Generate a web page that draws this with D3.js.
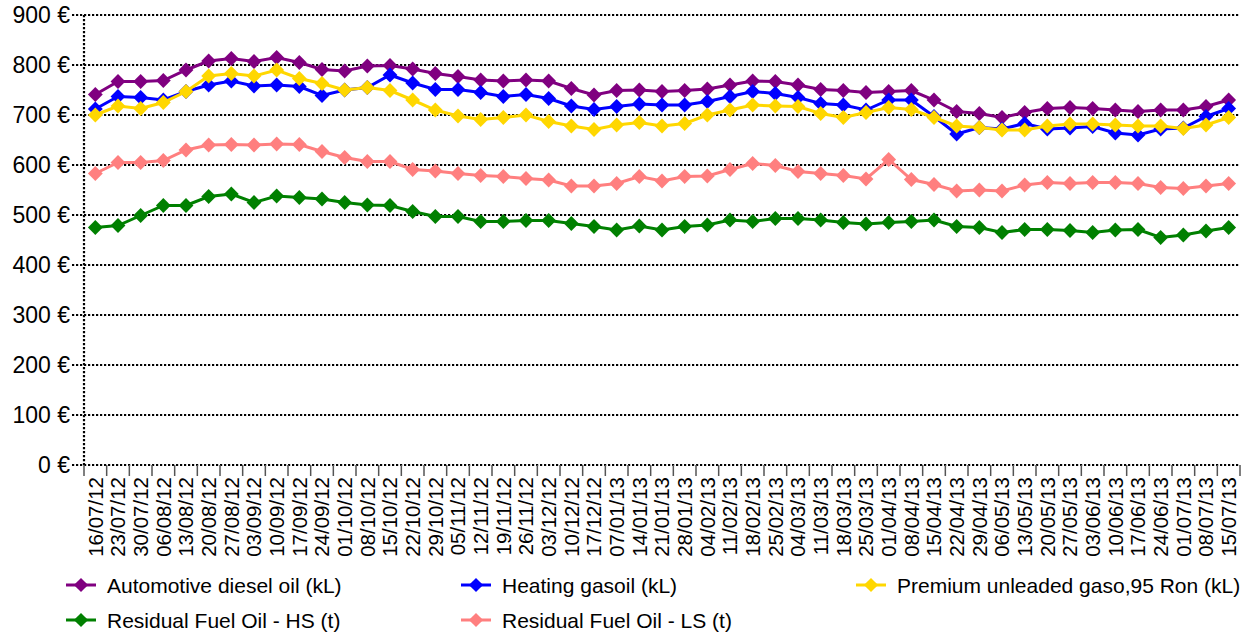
<!DOCTYPE html>
<html>
<head>
<meta charset="utf-8">
<script src="https://cdn.jsdelivr.net/npm/d3@7"></script>
<style>
  body { margin: 0; background: #fff; }
  svg { font-family: "Liberation Sans", Arial, sans-serif; }
</style>
</head>
<body>
<svg id="chart" width="1256" height="634"></svg>
<script>
const dates = ["16/07/12","23/07/12","30/07/12","06/08/12","13/08/12","20/08/12","27/08/12","03/09/12","10/09/12","17/09/12",
  "24/09/12","01/10/12","08/10/12","15/10/12","22/10/12","29/10/12","05/11/12","12/11/12","19/11/12","26/11/12",
  "03/12/12","10/12/12","17/12/12","07/01/13","14/01/13","21/01/13","28/01/13","04/02/13","11/02/13","18/02/13",
  "25/02/13","04/03/13","11/03/13","18/03/13","25/03/13","01/04/13","08/04/13","15/04/13","22/04/13","29/04/13",
  "06/05/13","13/05/13","20/05/13","27/05/13","03/06/13","10/06/13","17/06/13","24/06/13","01/07/13","08/07/13","15/07/13"];

const diesel = [741,767,767,769,790,808,813,807,815,805,791,788,798,799,792,783,777,770,768,770,
  768,753,740,749,750,747,749,752,760,768,767,760,751,749,745,747,749,730,707,703,
  695,705,713,715,713,710,707,710,710,717,730];
const heating = [712,737,735,730,747,760,768,758,760,757,739,750,755,780,764,751,751,745,737,741,
  733,718,711,717,722,720,720,727,737,747,743,735,723,720,710,730,730,697,662,675,
  672,683,672,674,677,664,660,672,674,697,713];
const premium = [700,718,713,725,747,778,783,778,790,773,763,750,755,749,730,710,698,691,695,700,
  687,678,671,680,685,678,683,700,710,720,718,717,703,695,705,715,711,695,678,675,
  670,670,678,682,682,680,678,678,673,680,695];
const fuelHS = [475,479,499,519,519,537,542,525,538,535,532,525,520,519,507,497,497,487,487,489,
  489,483,477,470,478,470,477,480,490,487,493,493,490,485,482,485,487,490,477,475,
  465,471,471,469,465,470,471,455,460,468,475];
const fuelLS = [583,605,605,609,630,640,641,640,642,641,627,615,607,607,591,588,583,579,577,573,
  570,558,558,563,577,568,577,578,591,603,599,587,583,579,572,611,571,561,548,550,
  548,560,565,563,565,565,563,555,553,558,563];

const yTicks = [0,100,200,300,400,500,600,700,800,900];

const series = [
  { name: "Automotive diesel oil (kL)", values: diesel, color: "#800080" },
  { name: "Heating gasoil (kL)", values: heating, color: "#0000ff" },
  { name: "Premium unleaded gaso,95 Ron (kL)", values: premium, color: "#ffd700" },
  { name: "Residual Fuel Oil - HS (t)", values: fuelHS, color: "#008000" },
  { name: "Residual Fuel Oil - LS (t)", values: fuelLS, color: "#ff7f7f" }
];

const svg = d3.select("#chart");
const plotLeft = 84, plotRight = 1240, plotTop = 15, plotBottom = 465;

const x = d3.scaleBand().domain(dates).range([plotLeft, plotRight]).padding(0);
const y = d3.scaleLinear().domain([0, 900]).range([plotBottom, plotTop]);

// gridlines + y labels
const grid = svg.append("g");
grid.selectAll("line").data(yTicks).join("line")
  .attr("x1", 72).attr("x2", plotRight)
  .attr("y1", d => y(d)).attr("y2", d => y(d))
  .attr("stroke", "#000").attr("stroke-width", 2.2).attr("stroke-dasharray", "2.2,1.8");
grid.selectAll("text").data(yTicks).join("text")
  .attr("x", 70).attr("y", d => y(d)).attr("dy", "0.36em")
  .attr("text-anchor", "end").attr("font-size", 23).attr("fill", "#000")
  .text(d => d + " €");

// y axis dotted line
svg.append("line")
  .attr("x1", plotLeft).attr("x2", plotLeft).attr("y1", plotTop).attr("y2", plotBottom)
  .attr("stroke", "#000").attr("stroke-width", 2.2).attr("stroke-dasharray", "2.2,1.8");

// x axis ticks at band edges
const edges = dates.map(d => x(d)).concat([plotRight]);
svg.append("g").selectAll("line").data(edges).join("line")
  .attr("x1", d => d).attr("x2", d => d).attr("y1", plotBottom).attr("y2", plotBottom + 11)
  .attr("stroke", "#555").attr("stroke-width", 1.5);

svg.append("g").selectAll("text").data(dates).join("text")
  .attr("transform", d => `translate(${x(d) + x.bandwidth() / 2},${plotBottom + 12}) rotate(-90)`)
  .attr("text-anchor", "end").attr("dy", "0.36em")
  .attr("font-size", 20.5).attr("fill", "#000")
  .text(d => d);

const line = d3.line().x((d, i) => x(dates[i]) + x.bandwidth() / 2).y(d => y(d));
const diamond = d3.symbol(d3.symbolSquare, 110);

series.forEach(s => {
  const g = svg.append("g");
  g.append("path").datum(s.values)
    .attr("d", line).attr("fill", "none")
    .attr("stroke", s.color).attr("stroke-width", 3);
  g.selectAll("path.m").data(s.values).join("path").attr("class", "m")
    .attr("d", diamond)
    .attr("transform", (d, i) => `translate(${x(dates[i]) + x.bandwidth() / 2},${y(d)}) rotate(45)`)
    .attr("fill", s.color);
});

// legend
const legendPos = [[66, 585], [461, 585], [856, 585], [66, 620], [461, 620]];
series.forEach((s, i) => {
  const [lx, ly] = legendPos[i];
  const g = svg.append("g").attr("transform", `translate(${lx},${ly})`);
  g.append("line").attr("x1", 0).attr("x2", 30).attr("y1", 0).attr("y2", 0)
    .attr("stroke", s.color).attr("stroke-width", 3);
  g.append("path").attr("d", d3.symbol(d3.symbolSquare, 100))
    .attr("transform", "translate(15,0) rotate(45)").attr("fill", s.color);
  g.append("text").attr("x", 41).attr("dy", "0.36em")
    .attr("font-size", 21).attr("fill", "#000").text(s.name);
});
</script>
</body>
</html>
